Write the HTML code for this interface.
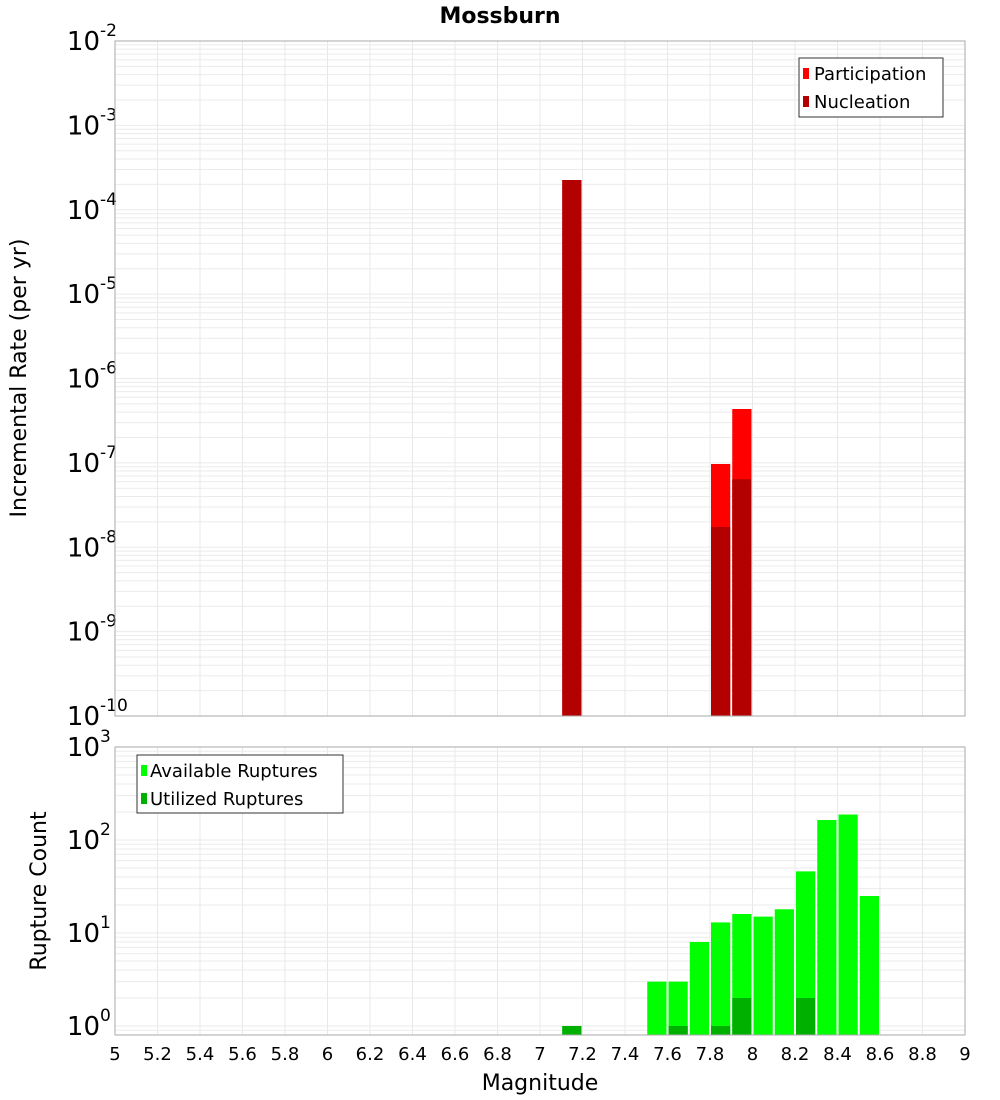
<!DOCTYPE html>
<html><head><meta charset="utf-8"><style>
body{margin:0;background:#fff}
svg{display:block;font-family:"DejaVu Sans","Liberation Sans",sans-serif}
</style></head><body>
<svg id="chart" width="1000" height="1100" viewBox="0 0 1000 1100" xmlns="http://www.w3.org/2000/svg">
<text x="500" y="23" text-anchor="middle" font-weight="bold" font-size="22">Mossburn</text>
<g id="topPanel"></g>
<g id="botPanel"></g>
<text transform="translate(26,378) rotate(-90)" text-anchor="middle" font-size="22">Incremental Rate (per yr)</text>
<text transform="translate(46,891) rotate(-90)" text-anchor="middle" font-size="22">Rupture Count</text>
<text x="540" y="1090" text-anchor="middle" font-size="22">Magnitude</text>
<g>
<rect x="799" y="58" width="144" height="59" fill="#fff" stroke="#333" stroke-width="1"/>
<rect x="803" y="68" width="6" height="11" fill="#ff0000"/>
<text x="814" y="80" font-size="18">Participation</text>
<rect x="803" y="96" width="6" height="11" fill="#b30000"/>
<text x="814" y="108" font-size="18">Nucleation</text>
</g>
<g>
<rect x="137" y="755" width="206" height="58" fill="#fff" stroke="#333" stroke-width="1"/>
<rect x="141" y="765" width="6" height="11" fill="#00ff00"/>
<text x="150" y="777" font-size="18">Available Ruptures</text>
<rect x="141" y="793" width="6" height="11" fill="#00b000"/>
<text x="150" y="805" font-size="18">Utilized Ruptures</text>
</g>
</svg>
<script>
const xTickLabels = ["5","5.2","5.4","5.6","5.8","6","6.2","6.4","6.6","6.8","7","7.2","7.4","7.6","7.8","8","8.2","8.4","8.6","8.8","9"];
const rateMags = [7.1, 7.8, 7.9];
const participationRates = [2.25e-4, 9.7e-8, 4.35e-7];
const nucleationRates = [2.25e-4, 1.74e-8, 6.4e-8];
const countMags = [7.1, 7.5, 7.6, 7.7, 7.8, 7.9, 8.0, 8.1, 8.2, 8.3, 8.4, 8.5];
const availableCounts = [1, 3, 3, 8, 13, 16, 15, 18, 46, 164, 188, 25];
const utilizedCounts = [1, 0, 1, 0, 1, 2, 0, 0, 2, 0, 0, 0];
const topExps = [-2,-3,-4,-5,-6,-7,-8,-9,-10];
const botExps = [3,2,1,0];

const NS = "http://www.w3.org/2000/svg";
const X0 = 115, X1 = 965;
const xs = m => X0 + (m - 5) / 4 * (X1 - X0);
const T = {top:41, bot:716, lmax:-2, lmin:-10};
const B = {top:747, bot:1035, lmax:3, lmin:Math.log10(0.8)};
const ys = (p, v) => p.top + (p.lmax - Math.log10(v)) / (p.lmax - p.lmin) * (p.bot - p.top);
function mk(tag, attrs, parent) {
  const e = document.createElementNS(NS, tag);
  for (const k in attrs) e.setAttribute(k, attrs[k]);
  parent.appendChild(e);
  return e;
}
function panel(g, p, exps) {
  const gridG = mk('g', {}, g);
  
  
  for (let i = 0; i < xTickLabels.length; i++) {
    const x = xs(parseFloat(xTickLabels[i]));
    mk('line', {x1:x, x2:x, y1:p.top, y2:p.bot, stroke:'#e8e8e8', 'stroke-width':1}, gridG);
  }
  for (let e = Math.floor(p.lmin); e < p.lmax; e++) {
    for (let k = 1; k < 10; k++) {
      const v = k * Math.pow(10, e);
      const l = Math.log10(v);
      if (l < p.lmin || l > p.lmax) continue;
      const y = ys(p, v);
      mk('line', {x1:X0, x2:X1, y1:y, y2:y, stroke:'#ebebeb', 'stroke-width':1}, gridG);
    }
  }
  for (const e of exps) {
    const y = ys(p, Math.pow(10, e));
    const t = mk('text', {x:100, y:y + 9, 'text-anchor':'end', 'font-size':26}, g);
    
    
    t.textContent = '10';
    const s = mk('text', {x:100, y:y - 5, 'font-size':17}, g);
    
    
    s.textContent = String(e);
  }
}
const topG = document.getElementById('topPanel');
const botG = document.getElementById('botPanel');
panel(topG, T, topExps);
panel(botG, B, botExps);
const bw = xs(5.1) - xs(5);
function bar(g, p, m, v, color, name) {
  if (!(v > 0)) return;
  const y = ys(p, v);
  const r = mk('rect', {x:xs(m) + 1, y:y, width:bw - 2, height:p.bot - y, fill:color}, g);
  
  
}
for (let i = 0; i < rateMags.length; i++) {
  bar(topG, T, rateMags[i], participationRates[i], '#ff0000', 'participation-bar');
  bar(topG, T, rateMags[i], nucleationRates[i], '#b30000', 'nucleation-bar');
}
for (let i = 0; i < countMags.length; i++) {
  bar(botG, B, countMags[i], availableCounts[i], '#00ff00', 'available-bar');
  bar(botG, B, countMags[i], utilizedCounts[i], '#00b000', 'utilized-bar');
}
for (const [g, p] of [[topG, T], [botG, B]]) {
  const f = mk('rect', {x:X0, y:p.top, width:X1 - X0, height:p.bot - p.top, fill:'none', stroke:'#aaa', 'stroke-width':1}, g);
  
  
}
for (let i = 0; i < xTickLabels.length; i++) {
  const t = mk('text', {x:xs(parseFloat(xTickLabels[i])), y:1060, 'text-anchor':'middle', 'font-size':18}, botG);
  
  
  t.textContent = xTickLabels[i];
}
</script>
</body></html>
